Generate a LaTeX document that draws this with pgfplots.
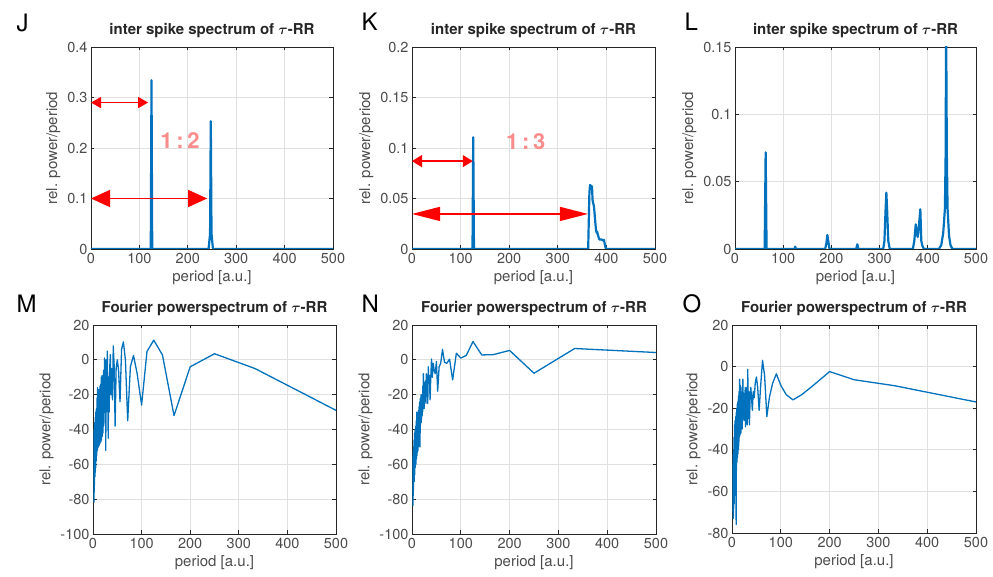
\documentclass[border=0pt]{standalone}
\usepackage{pgfplots}
\pgfplotsset{compat=1.18}
\usepackage{fontspec}
\setmainfont{TeX Gyre Heros}
\usetikzlibrary{arrows.meta}

\definecolor{mblue}{rgb}{0,0.447,0.741}
\definecolor{axgray}{rgb}{0.15,0.15,0.15}
\definecolor{labgray}{rgb}{0.30,0.30,0.30}
\definecolor{gridgray}{rgb}{0.88,0.88,0.88}
\definecolor{ratiored}{RGB}{250,140,140}

\pgfplotsset{
  base/.style={
    scale only axis,
    axis line style={draw=axgray, line width=0.8pt},
    tick align=inside, tick pos=both,
    major tick length=3.5pt,
    every tick/.style={draw=axgray, line width=0.8pt},
    grid=major, grid style={draw=gridgray, line width=0.9pt},
    tick label style={font=\fontsize{14.5}{16}\selectfont, text=labgray},
    xticklabel style={yshift=-1pt},
    label style={font=\fontsize{15}{17}\selectfont, text=labgray},
    title style={font=\bfseries\boldmath\fontsize{15}{17}\selectfont, text=axgray},
    xmin=0, xmax=500, xtick={0,100,...,500},
    xlabel={period [a.u.]}, ylabel={rel. power/period},
    /pgf/number format/assume math mode=true,
    scaled ticks=false,
    yticklabel style={/pgf/number format/fixed, /pgf/number format/precision=2},
  },
  isi/.style={base, title={inter spike spectrum of $\tau$-RR}, ymin=0},
  fps/.style={base, title={Fourier powerspectrum of $\tau$-RR}, ymax=20, ytick={-100,-80,...,20}},
}

\begin{document}
\begin{tikzpicture}[x=1pt,y=1pt]
\path[use as bounding box] (0,0) rectangle (993,577);

% ---------------- J ----------------
\begin{axis}[isi, at={(91pt,328pt)}, anchor=south west, width=242pt, height=202pt,
  ymax=0.4, ytick={0,0.1,...,0.4}]
\addplot[mblue, line width=2.2pt, line join=round] coordinates {
 (0,0) (123.5,0) (125,0.334) (126.5,0) (243,0) (246,0.03) (247.5,0.253) (249,0.03) (252,0) (500,0)};
\draw[red, line width=1.3pt, {Triangle[length=10pt,width=11pt]}-{Triangle[length=10pt,width=11pt]}]
  (axis cs:0,0.29) -- (axis cs:118,0.29);
\draw[red, line width=1.3pt, {Triangle[length=19pt,width=17pt]}-{Triangle[length=19pt,width=17pt]}]
  (axis cs:0,0.1) -- (axis cs:240,0.1);
\node[font=\bfseries\fontsize{22}{22}\selectfont, text=ratiored] at (axis cs:184,0.214) {1\,:\,2};
\end{axis}

% ---------------- K ----------------
\begin{axis}[isi, at={(412pt,328pt)}, anchor=south west, width=243pt, height=202pt,
  ymax=0.2, ytick={0,0.05,...,0.2}]
\addplot[mblue, line width=2.2pt, line join=round] coordinates {
 (0,0) (124.5,0) (126,0.1106) (127.5,0) (362.5,0) (365,0.055) (366.3,0.0634) (369,0.062)
 (370.4,0.062) (371.5,0.0485) (372.5,0.046) (374.5,0.042) (376.5,0.03) (378.6,0.0188)
 (380,0.016) (381,0.017) (383,0.013) (385,0.01) (386.8,0.009) (388,0.0095) (390,0.0095)
 (392,0.0085) (395,0.009) (397,0.004) (399.2,0) (500,0)};
\draw[red, line width=1.3pt, {Triangle[length=10pt,width=12pt]}-{Triangle[length=10pt,width=12pt]}]
  (axis cs:0,0.087) -- (axis cs:125,0.087);
\draw[red, line width=1.3pt, {Triangle[length=28pt,width=14pt]}-{Triangle[length=28pt,width=14pt]}]
  (axis cs:0,0.0347) -- (axis cs:362,0.0347);
\node[font=\bfseries\fontsize{22}{22}\selectfont, text=ratiored] at (axis cs:234,0.106) {1\,:\,3};
\end{axis}

% ---------------- L ----------------
\begin{axis}[isi, at={(735pt,328pt)}, anchor=south west, width=241pt, height=202pt,
  ymax=0.15, ytick={0,0.05,0.1,0.15}]
\addplot[mblue, line width=2.2pt, line join=round] coordinates {
 (0,0) (61.5,0) (63.6,0.0718) (65.5,0) (123.5,0) (125,0.0017) (126.5,0)
 (187,0) (189.5,0.004) (191.6,0.0104) (193.5,0.006) (196,0)
 (251.5,0) (253.8,0.0035) (256,0)
 (307.5,0) (310,0.006) (312.5,0.03) (314,0.0418) (315.5,0.03) (318,0.006) (321,0)
 (369,0) (372,0.006) (375,0.0183) (377,0.012) (379,0.009) (381,0.015) (384.5,0.0295)
 (386.5,0.006) (389,0.002) (392,0)
 (423,0) (428,0.003) (432,0.012) (435.5,0.03) (437,0.07) (438,0.17) (439.5,0.07)
 (441,0.03) (444,0.01) (447,0.003) (451,0) (500,0)};
\end{axis}

% ---------------- M ----------------
\begin{axis}[fps, at={(93pt,43pt)}, anchor=south west, width=243pt, height=209pt, ymin=-100]
\addplot[mblue, line width=1.3pt, line join=round] table {
500 -29
333.3 -5
250 3.5
200 -4
166.7 -32
142.9 2.8
125 11.3
111.1 4.8
100 -26
90.9 -8
83.3 2.5
76.9 -4
71.4 -35
66.7 0
62.5 10.3
58.8 6
55.6 -24
52.6 -6
50 0
47.6 -5
45.5 -38
43.5 -3
41.7 8
40 -23
38.5 -5
37 -20
35.7 3
34.5 -4
33.3 -30
32.3 -10
31.3 -45
30.3 -12
29.4 5
28.6 -8
27.8 -30
27 0
26.3 -52
25.6 -12
25 -25
24.4 -5
23.8 1
23.3 -30
22.7 -8
22.2 -38
21.7 -6
21.3 -28
20.8 -10
20.4 -42
20 -15
19.6 -38
19.2 -12
18.9 -44
18.5 -9
18.2 -35
17.9 -16
17.5 -46
17.2 -10
16.9 -40
16.7 -18
16.4 -47
16.1 -14
15.9 -36
15.6 -17
15.4 -45
15.2 -20
14.9 -38
14.7 -15
14.5 -48
14.3 -22
14.1 -40
13.9 -18
13.7 -46
13.5 -24
13.3 -42
13.2 -17
13.0 -49
12.8 -25
12.7 -41
12.5 -19
12.3 -47
12.0 -27
11.8 -44
11.5 -20
11.2 -50
11.0 -28
10.7 -43
10.5 -17
10.2 -48
10.0 -30
9.7 -46
9.4 -16
9.1 -52
8.8 -32
8.5 -48
8.2 -22
7.9 -55
7.6 -34
7.3 -50
7.0 -28
6.7 -58
6.4 -36
6.1 -54
5.8 -30
5.5 -62
5.2 -40
4.9 -58
4.6 -33
4.3 -67
4.0 -45
3.7 -64
3.4 -36
3.1 -72
2.8 -48
2.5 -76
2.2 -40
2.0 -82
};
\end{axis}

% ---------------- N ----------------
\begin{axis}[fps, at={(412pt,43pt)}, anchor=south west, width=244pt, height=209pt, ymin=-100]
\addplot[mblue, line width=1.3pt, line join=round] table {
500 4.2
333.3 6.5
250 -7.7
200 5.4
166.7 3
142.9 2.8
125 10.5
111.1 2.5
100 1
90.9 3.8
83.3 -11.5
76.9 0.4
71.4 -2
66.7 -1.5
62.5 6
58.8 -2
55.6 -4
52.6 -18
50 -1
47.6 -8
45.5 -6
43.5 -2
41.7 -10
40 0.5
38.5 -10
37 -23
35.7 -9
34.5 -12
33.3 -4
32.3 -25
31.3 -10
30.3 -20
29.4 -8
28.6 -25
27.8 -12
27 -18
26.3 -24
25.6 -13
25 -28
24.4 -15
23.8 -22
23.3 -8
22.7 -25
22.2 -15
21.7 -30
21.3 -20
20.8 -32
20.4 -22
20 -28
19.6 -34
19.2 -22
18.9 -36
18.5 -20
18.2 -33
17.9 -25
17.5 -38
17.2 -22
16.9 -42
16.7 -26
16.4 -50
16.1 -24
15.9 -40
15.6 -28
15.4 -44
15.2 -25
14.9 -38
14.7 -30
14.5 -46
14.3 -27
14.1 -42
13.9 -31
13.7 -48
13.5 -29
13.3 -40
13.2 -33
13.0 -50
12.8 -30
12.7 -44
12.5 -34
12.3 -52
12.0 -31
11.8 -46
11.5 -36
11.2 -53
11.0 -33
10.7 -48
10.5 -37
10.2 -55
10.0 -30
9.7 -50
9.4 -38
9.1 -57
8.8 -35
8.5 -52
8.2 -40
7.9 -60
7.6 -38
7.3 -56
7.0 -42
6.7 -62
6.4 -40
6.1 -58
5.8 -45
5.5 -66
5.2 -42
4.9 -63
4.6 -48
4.3 -70
4.0 -46
3.7 -68
3.4 -50
3.1 -75
2.8 -52
2.5 -78
2.2 -55
2.0 -84
};
\end{axis}

% ---------------- O ----------------
\begin{axis}[fps, at={(732pt,44pt)}, anchor=south west, width=244pt, height=208pt, ymin=-80]
\addplot[mblue, line width=1.3pt, line join=round] table {
500 -17
333.3 -9.2
250 -6.3
200 -2.4
166.7 -9
142.9 -13.5
125 -16
111.1 -13.5
100 -9
90.9 -3.5
83.3 -8
76.9 -14.4
71.4 -24
66.7 -4
62.5 3
58.8 -9
55.6 -21
52.6 -10
50 -5
47.6 -8
45.5 -15
43.5 -12
41.7 -21
40 -15
38.5 -10
37 -16
35.7 -28
34.5 -12
33.3 -25
32.3 -1.3
31.3 -28
30.3 -10
29.4 -20
28.6 -12
27.8 -29
27 -10
26.3 -22
25.6 -13
25 -18
24.4 -26
23.8 -14
23.3 -20
22.7 -12
22.2 -6
21.7 -25
21.3 -15
20.8 -30
20.4 -14
20 -22
19.6 -30
19.2 -12
18.9 -28
18.5 -10
18.2 -32
17.9 -14
17.5 -26
17.2 -9
16.9 -30
16.7 -15
16.4 -33
16.1 -11
15.9 -28
15.6 -6
15.4 -34
15.2 -13
14.9 -30
14.7 -16
14.5 -36
14.3 -12
14.1 -31
13.9 -18
13.7 -38
13.5 -14
13.3 -33
13.2 -20
13.0 -40
12.8 -16
12.7 -35
12.5 -19
12.3 -42
12.0 -17
11.8 -38
11.5 -22
11.2 -44
11.0 -18
10.7 -40
10.5 -24
10.2 -46
10.0 -20
9.7 -42
9.4 -25
9.1 -50
8.8 -22
8.5 -76
8.2 -27
7.9 -52
7.6 -24
7.3 -56
7.0 -30
6.7 -54
6.4 -26
6.1 -58
5.8 -32
5.5 -62
5.2 -28
4.9 -60
4.6 -36
4.3 -66
4.0 -34
3.7 -68
3.4 -40
3.1 -72
2.8 -42
2.5 -73
2.2 -47
2.0 -70
};
\end{axis}

% panel letters
\node[anchor=base west, font=\fontsize{24}{24}\selectfont] at (13,545) {J};
\node[anchor=base west, font=\fontsize{24}{24}\selectfont] at (358,546) {K};
\node[anchor=base west, font=\fontsize{24}{24}\selectfont] at (681,546) {L};
\node[anchor=base west, font=\fontsize{24}{24}\selectfont] at (13,264) {M};
\node[anchor=base west, font=\fontsize{24}{24}\selectfont] at (358,264) {N};
\node[anchor=base west, font=\fontsize{24}{24}\selectfont] at (679,264) {O};
\end{tikzpicture}
\end{document}
